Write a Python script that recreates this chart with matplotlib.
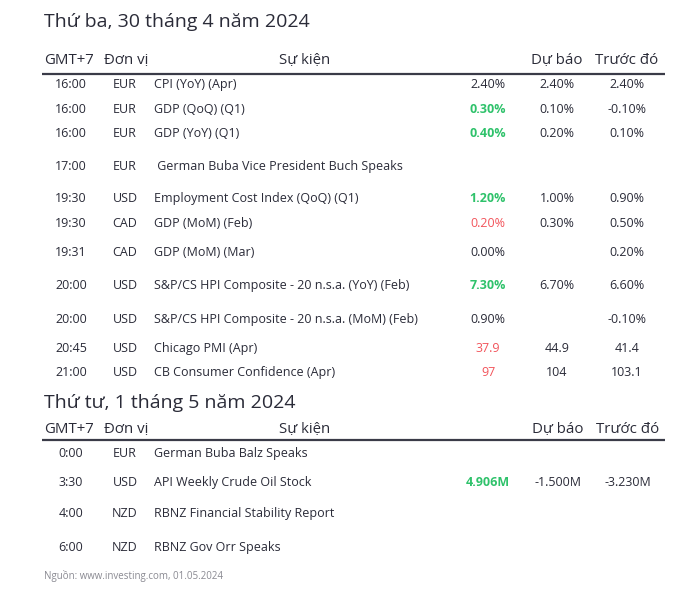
import matplotlib
matplotlib.use("Agg")
import matplotlib.pyplot as plt

plt.rcParams["font.family"] = ["Open Sans", "DejaVu Sans"]

# ---- data ----
title_1 = "Thứ ba, 30 tháng 4 năm 2024"
title_2 = "Thứ tư, 1 tháng 5 năm 2024"
headers = ["GMT+7", "Đơn vị", "Sự kiện", "Dự báo", "Trước đó"]

times_1 = ["16:00", "16:00", "16:00", "17:00", "19:30", "19:30", "19:31",
           "20:00", "20:00", "20:45", "21:00"]
currency_1 = ["EUR", "EUR", "EUR", "EUR", "USD", "CAD", "CAD",
              "USD", "USD", "USD", "USD"]
events_1 = ["CPI (YoY) (Apr)", "GDP (QoQ) (Q1)", "GDP (YoY) (Q1)",
            " German Buba Vice President Buch Speaks",
            "Employment Cost Index (QoQ) (Q1)", "GDP (MoM) (Feb)",
            "GDP (MoM) (Mar)",
            "S&P/CS HPI Composite - 20 n.s.a. (YoY) (Feb)",
            "S&P/CS HPI Composite - 20 n.s.a. (MoM) (Feb)",
            "Chicago PMI (Apr)", "CB Consumer Confidence (Apr)"]
actual_1 = ["2.40%", "0.30%", "0.40%", "", "1.20%", "0.20%", "0.00%",
            "7.30%", "0.90%", "37.9", "97"]
forecast_1 = ["2.40%", "0.10%", "0.20%", "", "1.00%", "0.30%", "",
              "6.70%", "", "44.9", "104"]
previous_1 = ["2.40%", "-0.10%", "0.10%", "", "0.90%", "0.50%", "0.20%",
              "6.60%", "-0.10%", "41.4", "103.1"]
# +1 better than forecast, -1 worse, 0 neutral
surprise_1 = [0, 1, 1, 0, 1, -1, 0, 1, 0, -1, -1]

times_2 = ["0:00", "3:30", "4:00", "6:00"]
currency_2 = ["EUR", "USD", "NZD", "NZD"]
events_2 = ["German Buba Balz Speaks", "API Weekly Crude Oil Stock",
            "RBNZ Financial Stability Report", "RBNZ Gov Orr Speaks"]
actual_2 = ["", "4.906M", "", ""]
forecast_2 = ["", "-1.500M", "", ""]
previous_2 = ["", "-3.230M", "", ""]
surprise_2 = [0, 1, 0, 0]

source = "Nguồn: www.investing.com, 01.05.2024"

# ---- layout (pixel coordinates, text placed on its baseline) ----
W, H = 700, 593
ink = "#2a2b38"
colors = {1: "#2fc26b", -1: "#f2545b", 0: ink}
fs_row = 9
fs_head = 10.8

fig = plt.figure(figsize=(W / 100, H / 100), dpi=100)
ax = fig.add_axes([0, 0, 1, 1])
ax.set_xlim(0, W)
ax.set_ylim(H, 0)
ax.axis("off")

col_time, col_cur, col_evt = 71, 125, 154
col_act, col_fc, col_prev = 488, 557, 627


def section(title, ty, hy, ly, rows_y, times, cur, events, act, fc, prev, surp,
            hdr_x):
    ax.text(44, ty + 7, title, fontsize=14, color=ink, va="baseline",
            ha="left", fontweight="medium")
    hb = hy + 5
    ax.text(44, hb, headers[0], fontsize=fs_head, color=ink, va="baseline",
            ha="left")
    ax.text(104, hb, headers[1], fontsize=fs_head, color=ink, va="baseline",
            ha="left")
    ax.text(305, hb, headers[2], fontsize=fs_head, color=ink, va="baseline",
            ha="center")
    ax.text(hdr_x[0], hb, headers[3], fontsize=fs_head, color=ink,
            va="baseline", ha="center")
    ax.text(hdr_x[1], hb, headers[4], fontsize=fs_head, color=ink,
            va="baseline", ha="center")
    ax.plot([42, 665], [ly, ly], color="#3a3b48", lw=1.6,
            solid_capstyle="butt")
    for i, y in enumerate(rows_y):
        yb = y + 4.3
        ax.text(col_time, yb, times[i], fontsize=fs_row, color=ink,
                ha="center", va="baseline")
        ax.text(col_cur, yb, cur[i], fontsize=fs_row, color=ink, ha="center",
                va="baseline")
        ax.text(col_evt, yb, events[i], fontsize=fs_row, color=ink, ha="left",
                va="baseline")
        ax.text(col_act, yb, act[i], fontsize=fs_row, color=colors[surp[i]],
                ha="center", va="baseline",
                fontweight="bold" if surp[i] == 1 else "normal")
        ax.text(hdr_x[0], yb, fc[i], fontsize=fs_row, color=ink, ha="center",
                va="baseline")
        ax.text(hdr_x[1], yb, prev[i], fontsize=fs_row, color=ink, ha="center",
                va="baseline")


rows_y1 = [84, 109, 133, 166, 198, 223, 252, 285, 319, 348, 372]
rows_y2 = [453, 482, 513, 547]

section(title_1, 20, 59, 74, rows_y1, times_1, currency_1, events_1,
        actual_1, forecast_1, previous_1, surprise_1, (col_fc, col_prev))
section(title_2, 401, 428, 440, rows_y2, times_2, currency_2, events_2,
        actual_2, forecast_2, previous_2, surprise_2, (558, 628))

ax.text(44, 578.5, source, fontsize=7, color="#8a8a92", ha="left",
        va="baseline")

fig.savefig("out.png", dpi=100, facecolor="white")
